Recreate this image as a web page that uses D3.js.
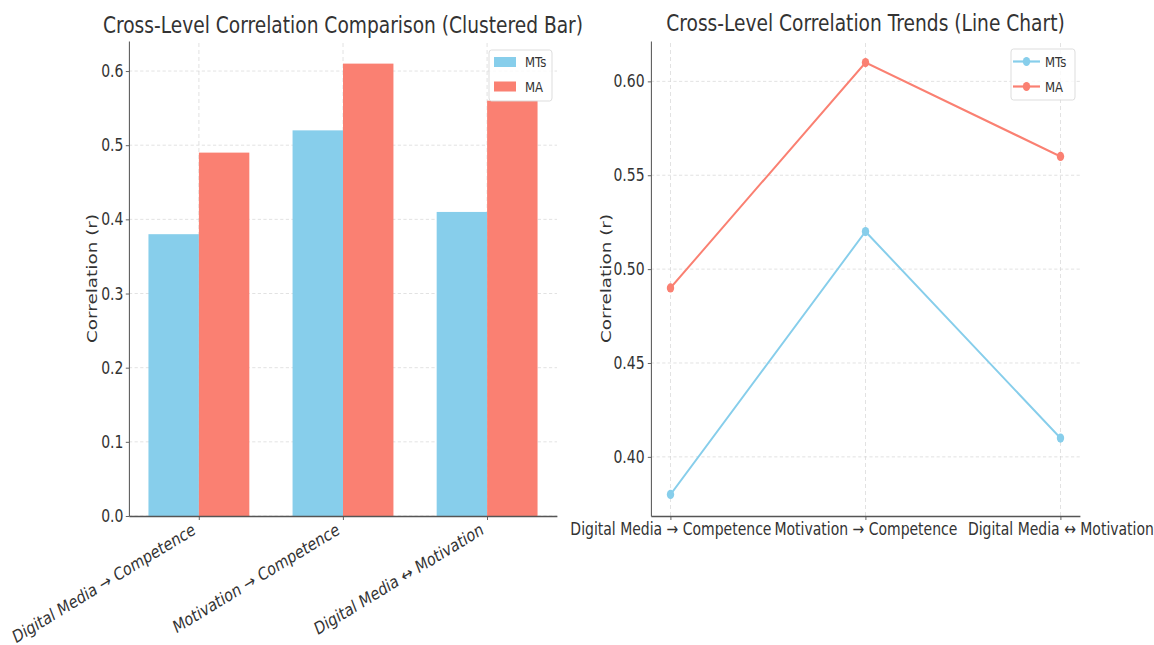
<!DOCTYPE html>
<html><head><meta charset="utf-8">
<script src="https://cdn.jsdelivr.net/npm/d3@7"></script>
<style>
body{margin:0;background:#fff}
svg{display:block}
text{font-family:"DejaVu Sans",sans-serif}
</style>
</head><body><svg id="c"></svg>
<script>
const categories = ["Digital Media → Competence", "Motivation → Competence", "Digital Media ↔ Motivation"];
const seriesNames = ["MTs", "MA"];
const mtsValues = [0.38, 0.52, 0.41];
const maValues = [0.49, 0.61, 0.56];
const barTicks = [0, 0.1, 0.2, 0.3, 0.4, 0.5, 0.6];
const lineTicks = [0.40, 0.45, 0.50, 0.55, 0.60];
const seriesColors = ["#87CEEB", "#FA8072"];
const barTitle = "Cross-Level Correlation Comparison (Clustered Bar)";
const lineTitle = "Cross-Level Correlation Trends (Line Chart)";
const yLabel = "Correlation (r)";

const series = [mtsValues, maValues];
const SX = 0.8, W = 1154, H = 645, DW = W / SX;
const R = v => v / SX;
const svg = d3.select("#c").attr("width", W).attr("height", H)
  .attr("viewBox", `0 0 ${DW} ${H}`).attr("preserveAspectRatio", "none");

const TICK_FS = 17.5, TITLE_FS = 23.3, LABEL_FS = 18.4, LEG_FS = 14.6;
const gridColor = "#d6d6d6", spineColor = "#555", textColor = "#333";

function styleAxis(g) {
  g.select(".domain").attr("stroke", spineColor).attr("stroke-width", 1.3);
  g.selectAll(".tick line").attr("stroke", spineColor).attr("stroke-width", 1);
  g.selectAll(".tick text").attr("fill", textColor).style("font-size", TICK_FS + "px")
    .style("font-family", '"DejaVu Sans",sans-serif');
}

function grid(g, x, y, xt, yt) {
  const [x0, x1] = x.range(), [y0, y1] = y.range();
  g.selectAll(".gh").data(yt).join("line")
    .attr("x1", x0).attr("x2", x1).attr("y1", d => y(d)).attr("y2", d => y(d))
    .attr("stroke", gridColor).attr("stroke-width", 0.8).attr("stroke-dasharray", "4,3");
  g.selectAll(".gv").data(xt).join("line").attr("class", "gv")
    .attr("x1", d => x(d)).attr("x2", d => x(d)).attr("y1", y0).attr("y2", y1)
    .attr("stroke", gridColor).attr("stroke-width", 0.8).attr("stroke-dasharray", "4,3");
}

// ---------- Bar chart ----------
const xB = d3.scaleLinear().domain([-0.485, 2.485]).range([R(129), R(557)]);
const yB = d3.scaleLinear().domain([0, 0.6405]).range([516, 41]);
const bw = 0.35;
const gB = svg.append("g");
grid(gB.append("g"), xB, yB, [0, 1, 2], barTicks);

series.forEach((vals, s) => {
  gB.append("g").selectAll("rect").data(vals).join("rect")
    .attr("x", (d, i) => xB(i - bw + s * bw))
    .attr("width", xB(bw) - xB(0))
    .attr("y", d => yB(d))
    .attr("height", d => yB(0) - yB(d))
    .attr("fill", seriesColors[s]);
});

const yAxB = gB.append("g").attr("transform", `translate(${xB.range()[0]},0)`)
  .call(d3.axisLeft(yB).tickValues(barTicks).tickFormat(d3.format(".1f")).tickSize(4).tickPadding(3).tickSizeOuter(0));
styleAxis(yAxB);
const xAxB = gB.append("g").attr("transform", `translate(0,${yB.range()[0]})`)
  .call(d3.axisBottom(xB).tickValues([0, 1, 2]).tickFormat(i => categories[i]).tickSize(4).tickSizeOuter(0));
styleAxis(xAxB);
xAxB.selectAll(".tick text")
  .attr("x", 0).attr("y", 0).attr("dy", 0)
  .attr("text-anchor", "end")
  .attr("transform", `translate(${R(-3)},17.5) rotate(-26)`);

gB.append("text").attr("x", (xB.range()[0] + xB.range()[1]) / 2).attr("y", 33)
  .attr("text-anchor", "middle").attr("fill", textColor).style("font-size", TITLE_FS + "px").text(barTitle);
gB.append("text").attr("transform", `translate(${R(97)},${(yB.range()[0] + yB.range()[1]) / 2}) rotate(-90)`)
  .attr("text-anchor", "middle").attr("fill", textColor).style("font-size", LABEL_FS + "px").text(yLabel);

// legend (bar)
const lgB = gB.append("g");
lgB.append("rect").attr("x", R(489)).attr("y", 50).attr("width", R(552) - R(489)).attr("height", 51)
  .attr("rx", 3).attr("fill", "rgba(255,255,255,0.8)").attr("stroke", "#d9d9d9").attr("stroke-width", 1);
seriesNames.forEach((n, s) => {
  const cy = 62 + s * 24.5;
  lgB.append("rect").attr("x", R(494)).attr("y", cy - 5).attr("width", R(516) - R(494)).attr("height", 10)
    .attr("fill", seriesColors[s]);
  lgB.append("text").attr("x", R(525)).attr("y", cy + 5.5).attr("fill", textColor)
    .style("font-size", LEG_FS + "px").text(n);
});

// ---------- Line chart ----------
const xL = d3.scaleLinear().domain([-0.1, 2.1]).range([R(651), R(1080)]);
const yL = d3.scaleLinear().domain([0.3685, 0.6215]).range([516, 41]);
const gL = svg.append("g");
grid(gL.append("g"), xL, yL, [0, 1, 2], lineTicks);

const line = d3.line().x((d, i) => xL(i)).y(d => yL(d));
series.forEach((vals, s) => {
  gL.append("path").datum(vals).attr("d", line).attr("fill", "none")
    .attr("stroke", seriesColors[s]).attr("stroke-width", 2.2);
  gL.append("g").selectAll("circle").data(vals).join("circle")
    .attr("cx", (d, i) => xL(i)).attr("cy", d => yL(d)).attr("r", 4.6)
    .attr("fill", seriesColors[s]);
});

const yAxL = gL.append("g").attr("transform", `translate(${xL.range()[0]},0)`)
  .call(d3.axisLeft(yL).tickValues(lineTicks).tickFormat(d3.format(".2f")).tickSize(4).tickPadding(4).tickSizeOuter(0));
styleAxis(yAxL);
const xAxL = gL.append("g").attr("transform", `translate(0,${yL.range()[0]})`)
  .call(d3.axisBottom(xL).tickValues([0, 1, 2]).tickFormat(i => categories[i]).tickSize(4).tickPadding(3).tickSizeOuter(0));
styleAxis(xAxL);

gL.append("text").attr("x", (xL.range()[0] + xL.range()[1]) / 2).attr("y", 31)
  .attr("text-anchor", "middle").attr("fill", textColor).style("font-size", TITLE_FS + "px").text(lineTitle);
gL.append("text").attr("transform", `translate(${R(611)},${(yL.range()[0] + yL.range()[1]) / 2}) rotate(-90)`)
  .attr("text-anchor", "middle").attr("fill", textColor).style("font-size", LABEL_FS + "px").text(yLabel);

// legend (line)
const lgL = gL.append("g");
lgL.append("rect").attr("x", R(1011)).attr("y", 49).attr("width", R(1075) - R(1011)).attr("height", 51)
  .attr("rx", 3).attr("fill", "rgba(255,255,255,0.8)").attr("stroke", "#d9d9d9").attr("stroke-width", 1);
seriesNames.forEach((n, s) => {
  const cy = 61.5 + s * 25;
  lgL.append("line").attr("x1", R(1013)).attr("x2", R(1040)).attr("y1", cy).attr("y2", cy)
    .attr("stroke", seriesColors[s]).attr("stroke-width", 2.2);
  lgL.append("circle").attr("cx", R(1026.5)).attr("cy", cy).attr("r", 4.6).attr("fill", seriesColors[s]);
  lgL.append("text").attr("x", R(1045)).attr("y", cy + 5.5).attr("fill", textColor)
    .style("font-size", LEG_FS + "px").text(n);
});
</script>
</body></html>
